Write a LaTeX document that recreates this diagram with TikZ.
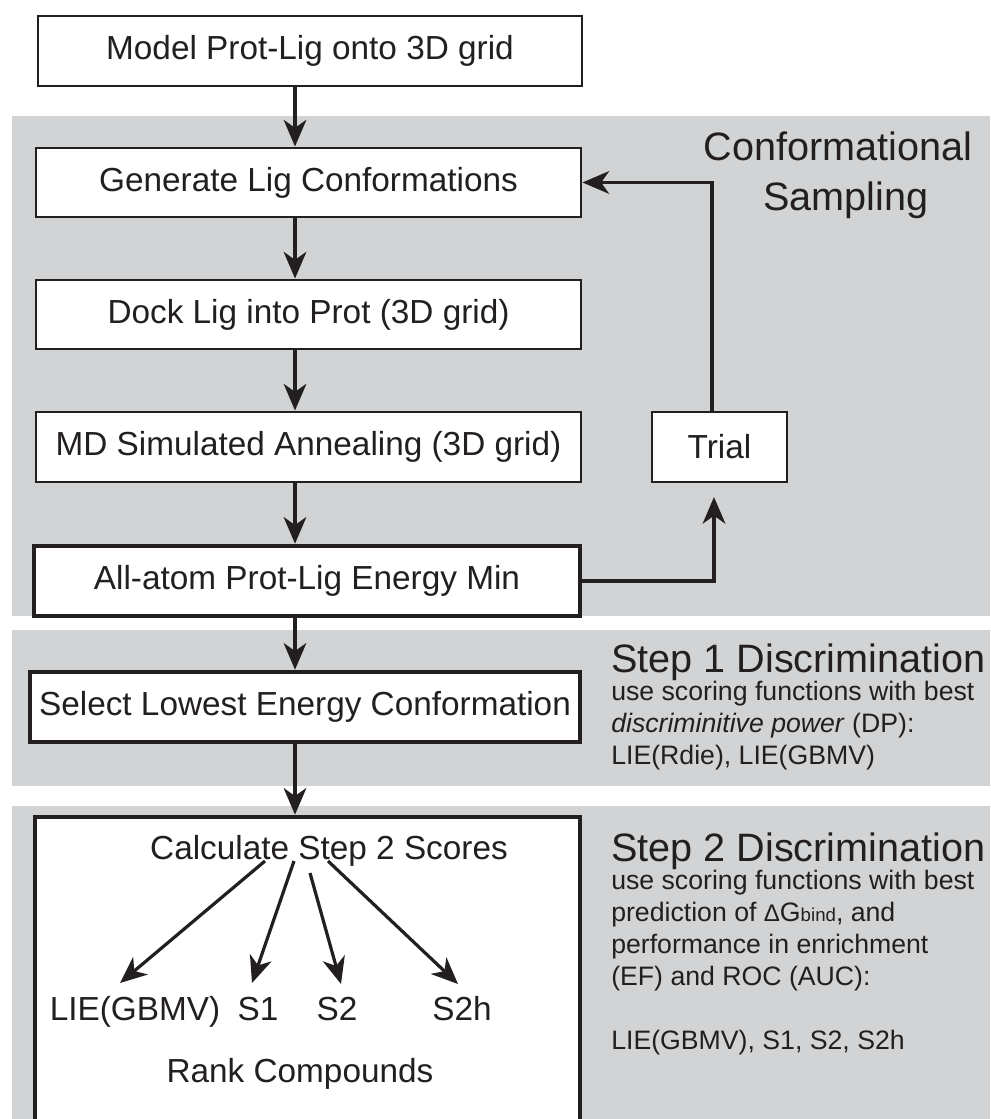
\documentclass[tikz,border=0pt]{standalone}
\usepackage{fontspec}
\setmainfont{Liberation Sans}
\usetikzlibrary{arrows.meta}
\definecolor{bg}{HTML}{D1D3D4}
\definecolor{ink}{HTML}{231F20}
\newcommand{\myboxfont}{\fontsize{25}{30}\selectfont}
\newcommand{\mytitlefont}{\fontsize{29.7}{37}\selectfont}
\newcommand{\mydescfont}{\fontsize{20}{24}\selectfont}
\begin{document}
\begin{tikzpicture}[x=0.75pt,y=-0.75pt,
  box/.style={draw=ink, line width=2.2pt, fill=white, inner sep=0pt, font=\myboxfont, text=ink},
  thickbox/.style={box, line width=3.4pt},
  arr/.style={draw=ink, line width=2.4pt, -{Stealth[length=20pt,width=17pt,inset=6pt]}},
  lbl/.style={text=ink, inner sep=0pt, font=\myboxfont, anchor=base},
  ttl/.style={text=ink, inner sep=0pt, font=\mytitlefont, anchor=base west},
  desc/.style={text=ink, inner sep=0pt, font=\mydescfont, anchor=base west}]
\useasboundingbox (0,0) rectangle (990,1119);
\clip (0,0) rectangle (990,1119);
\fill[white] (0,0) rectangle (990,1119);
\fill[bg] (12,116) rectangle (990,616);
\fill[bg] (12,630) rectangle (990,786);
\fill[bg] (12,806) rectangle (990,1119);

% boxes
\node[box, minimum width=408pt, minimum height=52.5pt] (top) at (310,51) {Model Prot-Lig onto 3D grid};
\node[box, minimum width=408.75pt, minimum height=51.75pt] (gen) at (308.5,182.5) {Generate Lig Conformations};
\node[box, minimum width=408.75pt, minimum height=51.75pt] (dock) at (308.5,314.5) {Dock Lig into Prot (3D grid)};
\node[box, minimum width=408.75pt, minimum height=52.5pt] (md) at (308.5,447) {MD Simulated Annealing (3D grid)};
\node[thickbox, minimum width=409.5pt, minimum height=52.5pt] (allatom) at (307,581) {All-atom Prot-Lig Energy Min};
\node[box, minimum width=101.25pt, minimum height=52.5pt] (trial) at (719.5,447) {Trial};
\node[thickbox, minimum width=412.5pt, minimum height=52.5pt] (select) at (305,707) {Select Lowest Energy Conformation};
\node[thickbox, minimum width=408.75pt, minimum height=234.75pt] (stepbox) at (307.5,973.5) {};

% main flow arrows
\coordinate (ax) at (295,0);
\draw[arr] (top.south -| ax) -- (gen.north -| ax);
\draw[arr] (gen.south -| ax) -- (dock.north -| ax);
\draw[arr] (dock.south -| ax) -- (md.north -| ax);
\draw[arr] (md.south -| ax) -- (allatom.north -| ax);
\draw[arr] (allatom.south -| ax) -- (select.north -| ax);
\draw[arr] (select.south -| ax) -- (stepbox.north -| ax);

% feedback loop
\coordinate (tin) at (714,497);
\draw[arr] (allatom.east) -| (tin);
\draw[arr] ([xshift=-5.6pt]trial.north) |- (gen.east);

% right-hand titles and descriptions
\node[text=ink, inner sep=0pt, font=\mytitlefont, anchor=base] (conf) at (838,161) {Conformational};
\node[text=ink, inner sep=0pt, font=\mytitlefont, anchor=base] (samp) at (846,211) {Sampling};

\node[ttl] (s1t) at (611,672) {Step 1 Discrimination};
\node[desc] (s1a) at (611,700.5) {use scoring functions with best};
\node[desc] (s1b) at (611,732.5) {\textit{discriminitive power} (DP):};
\node[desc] (s1c) at (611,764.5) {LIE(Rdie), LIE(GBMV)};

\node[ttl] (s2t) at (611,861) {Step 2 Discrimination};
\node[desc] (s2a) at (611,889.5) {use scoring functions with best};
\node[desc] (s2b) at (611,921.5) {prediction of {\fontsize{18}{20}\selectfont Δ}G{\fontsize{14}{16}\selectfont bind}, and};
\node[desc] (s2c) at (611,953.5) {performance in enrichment};
\node[desc] (s2d) at (611,985.5) {(EF) and ROC (AUC):};
\node[desc] (s2e) at (611,1049.5) {LIE(GBMV), S1, S2, S2h};

% step 2 box content
\node[lbl] (calcnode) at (329,859) {Calculate Step 2 Scores};
\node[lbl] (lie) at (135,1020) {LIE(GBMV)};
\node[lbl] (sa) at (258,1020) {S1};
\node[lbl] (sb) at (337,1020) {S2};
\node[lbl] (sh) at (462,1020) {S2h};
\node[lbl] (rank) at (300,1082) {Rank Compounds};

\draw[arr] ([xshift=-48pt,yshift=-1.5pt]calcnode.base) -- ([xshift=-11.25pt,yshift=27.75pt]lie.base);
\draw[arr] ([xshift=-26.25pt,yshift=-1.5pt]calcnode.base) -- ([xshift=-4.5pt,yshift=27.75pt]sa.base);
\draw[arr] ([xshift=-14.25pt,yshift=-10.5pt]calcnode.base) -- ([xshift=3pt,yshift=27pt]sb.base);
\draw[arr] ([xshift=-0.75pt,yshift=-1.5pt]calcnode.base) -- ([xshift=-3pt,yshift=27pt]sh.base);
\end{tikzpicture}
\end{document}
